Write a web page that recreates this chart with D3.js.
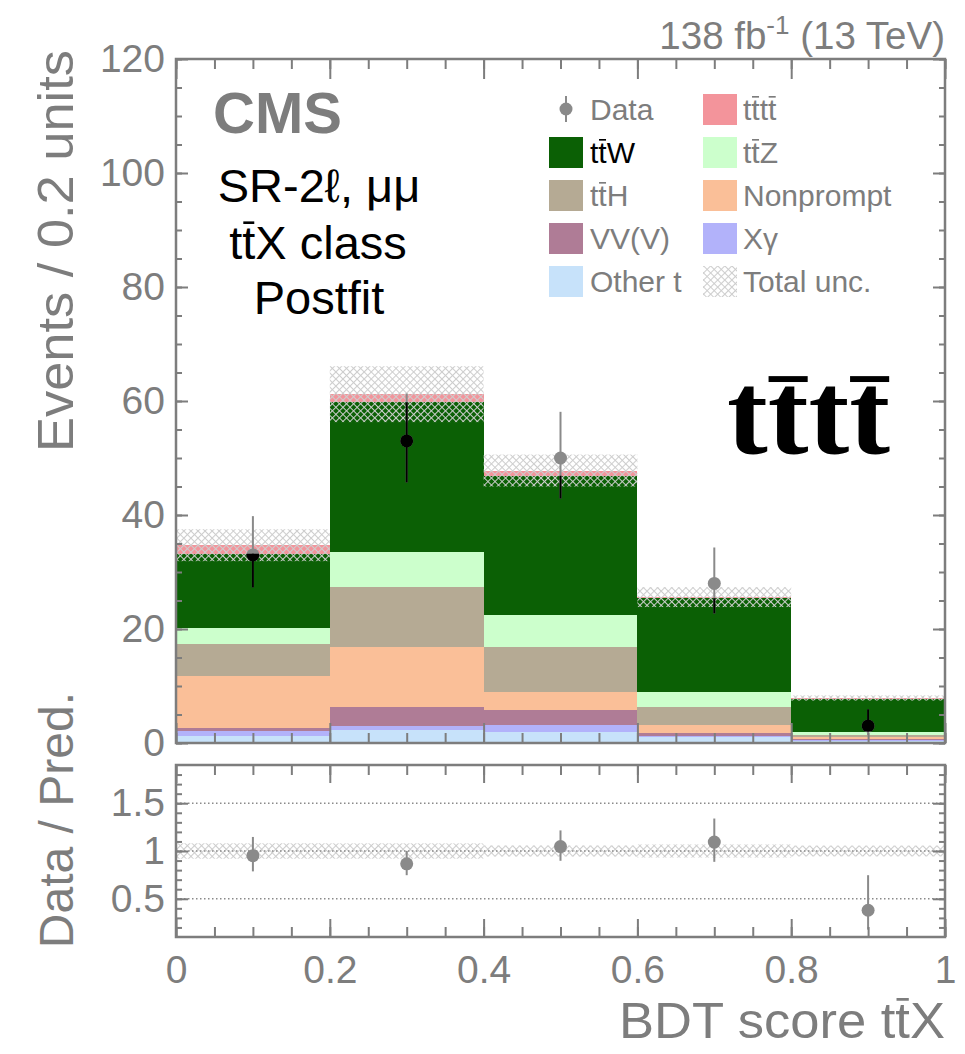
<!DOCTYPE html>
<html><head><meta charset="utf-8">
<script src="https://cdn.jsdelivr.net/npm/d3@7"></script>
<style>body{margin:0;background:#fff} svg{display:block}</style>
</head><body><script>
// ---------------- data ----------------
const binEdges = [0, 0.2, 0.4, 0.6, 0.8, 1.0];
const processKeys = ["otherT", "xGamma", "vvv", "nonprompt", "ttH", "ttZ", "ttW", "tttt"];
const otherT    = [1.2, 2.3, 2.0, 1.0, 0.3];
const xGamma    = [0.9, 0.7, 1.1, 0.3, 0.15];
const vvv       = [0.5, 3.4, 2.7, 0.45, 0.25];
const nonprompt = [9.2, 10.5, 3.2, 1.4, 0.3];
const ttH       = [5.5, 10.4, 7.9, 3.25, 0.4];
const ttZ       = [2.9, 6.2, 5.5, 2.6, 0.6];
const ttW       = [13.0, 26.3, 24.5, 16.4, 5.7];
const tttt      = [1.5, 1.4, 0.9, 0.2, 0.2];
const totalUnc  = [2.8, 4.9, 2.8, 1.75, 0.45];
const dataCounts = [33, 53, 50, 28, 3];
const dataErrLo  = [5.7, 7.3, 7.1, 5.3, 1.6];
const dataErrHi  = [6.8, 8.3, 8.1, 6.3, 2.9];
const yTicksMain = [0, 20, 40, 60, 80, 100, 120];
const yTicksRatio = [0.5, 1, 1.5];
const xTicks = [0, 0.2, 0.4, 0.6, 0.8, 1];
const xTickLabels = ["0", "0.2", "0.4", "0.6", "0.8", "1"];
const colors = {
  otherT: "#c7e2fa", xGamma: "#b2b2fa", vvv: "#af7c96", nonprompt: "#fabf98",
  ttH: "#b5aa94", ttZ: "#ccffcc", ttW: "#0b6005", tttt: "#f3949b"
};
// legend: [key, label parts ([text, overbar])]
const legendCol1 = [
  ["data", [["Data", false]]],
  ["ttW", [["t", false], ["t", true], ["W", false]]],
  ["ttH", [["t", false], ["t", true], ["H", false]]],
  ["vvv", [["VV(V)", false]]],
  ["otherT", [["Other t", false]]]
];
const legendCol2 = [
  ["tttt", [["t", false], ["t", true], ["t", false], ["t", true]]],
  ["ttZ", [["t", false], ["t", true], ["Z", false]]],
  ["nonprompt", [["Nonprompt", false]]],
  ["xGamma", [["Xγ", false]]],
  ["unc", [["Total unc.", false]]]
];

// ---------------- setup ----------------
const W = 965, H = 1054;
const FONT = "'Liberation Sans', Arial, Helvetica, sans-serif";
const GREY = "#7d7d7d";
const svg = d3.select("body").append("svg").attr("width", W).attr("height", H);
const defs = svg.append("defs");
const pat = defs.append("pattern").attr("id", "hatch").attr("patternUnits", "userSpaceOnUse")
  .attr("width", 5).attr("height", 5).attr("patternTransform", "rotate(45)");
pat.append("path").attr("d", "M0,0.5H5M0.5,0V5").attr("stroke", "#cdcdcd").attr("stroke-width", 1.1).attr("fill", "none");

const x = d3.scaleLinear().domain([0, 1]).range([176, 945]);
const y = d3.scaleLinear().domain([0, 120]).range([743, 59]);
const yr = d3.scaleLinear().domain([0.1, 1.9]).range([937, 765]);

const series = { otherT, xGamma, vvv, nonprompt, ttH, ttZ, ttW, tttt };
const rows = d3.range(5).map(i => {
  const o = { i, x0: binEdges[i], x1: binEdges[i + 1] };
  processKeys.forEach(k => o[k] = series[k][i]);
  return o;
});
const stacked = d3.stack().keys(processKeys)(rows);
const totals = rows.map(r => d3.sum(processKeys, k => r[k]));

function richText(parent, px, py, parts, o) {
  const t = parent.append("text").attr("x", px).attr("y", py)
    .attr("font-family", o.family || FONT).attr("font-size", o.size).attr("fill", o.fill)
    .attr("text-anchor", o.anchor || "start").attr("font-weight", o.weight || "normal");
  parts.forEach(p => t.append("tspan").text(p[0]));
  if (o.textLength) t.attr("textLength", o.textLength).attr("lengthAdjust", "spacingAndGlyphs");
  const node = t.node();
  let idx = 0;
  parts.forEach(p => {
    if (p[1]) {
      for (let k = 0; k < p[0].length; k++) {
        const s = node.getStartPositionOfChar(idx + k), e = node.getEndPositionOfChar(idx + k);
        const w = e.x - s.x, ins = o.barInset == null ? 0.08 : o.barInset;
        parent.append("rect").attr("x", s.x + w * ins).attr("width", w * (1 - 2 * ins))
          .attr("y", py - o.size * (o.barY || 0.80)).attr("height", o.size * (o.barH || 0.055))
          .attr("fill", o.fill);
      }
    }
    idx += p[0].length;
  });
  return t;
}

// ---------------- main stack ----------------
const gMain = svg.append("g");
stacked.forEach(layer => {
  gMain.append("g").selectAll("rect").data(layer).join("rect")
    .attr("x", d => x(d.data.x0)).attr("width", d => x(d.data.x1) - x(d.data.x0))
    .attr("y", d => y(d[1])).attr("height", d => Math.max(0, y(d[0]) - y(d[1])))
    .attr("fill", colors[layer.key]).attr("shape-rendering", "crispEdges");
});
// clip of ttW region for black data points
const ttwLayer = stacked.find(l => l.key === "ttW");
const clip = defs.append("clipPath").attr("id", "ttwClip");
clip.selectAll("rect").data(ttwLayer).join("rect")
  .attr("x", d => x(d.data.x0)).attr("width", d => x(d.data.x1) - x(d.data.x0))
  .attr("y", d => y(d[1])).attr("height", d => y(d[0]) - y(d[1]));

// uncertainty hatch
gMain.append("g").selectAll("rect").data(rows).join("rect")
  .attr("x", d => x(d.x0)).attr("width", d => x(d.x1) - x(d.x0))
  .attr("y", (d, i) => y(totals[i] + totalUnc[i]))
  .attr("height", (d, i) => y(totals[i] - totalUnc[i]) - y(totals[i] + totalUnc[i]))
  .attr("fill", "url(#hatch)");

// data points
function drawData(g, color) {
  const pts = rows.map((r, i) => ({ cx: (r.x0 + r.x1) / 2, v: dataCounts[i], lo: dataErrLo[i], hi: dataErrHi[i] }));
  g.selectAll("line").data(pts).join("line")
    .attr("x1", d => x(d.cx)).attr("x2", d => x(d.cx))
    .attr("y1", d => y(d.v - d.lo)).attr("y2", d => y(d.v + d.hi))
    .attr("stroke", color).attr("stroke-width", 2);
  g.selectAll("circle").data(pts).join("circle")
    .attr("cx", d => x(d.cx)).attr("cy", d => y(d.v)).attr("r", 6.5).attr("fill", color);
}
drawData(svg.append("g"), "#8a8a8a");
drawData(svg.append("g").attr("clip-path", "url(#ttwClip)"), "#000");

// ---------------- ratio panel ----------------
const gR = svg.append("g");
gR.append("g").selectAll("rect").data(rows).join("rect")
  .attr("x", d => x(d.x0)).attr("width", d => x(d.x1) - x(d.x0))
  .attr("y", (d, i) => yr(1 + totalUnc[i] / totals[i]))
  .attr("height", (d, i) => yr(1 - totalUnc[i] / totals[i]) - yr(1 + totalUnc[i] / totals[i]))
  .attr("fill", "url(#hatch)");
gR.selectAll("line.ref").data(yTicksRatio).join("line").attr("class", "ref")
  .attr("x1", x(0)).attr("x2", x(1)).attr("y1", d => yr(d)).attr("y2", d => yr(d))
  .attr("stroke", "#8a8a8a").attr("stroke-width", 1.5).attr("stroke-dasharray", "1.5,2.5");
const ratioPts = rows.map((r, i) => ({
  cx: (r.x0 + r.x1) / 2, v: dataCounts[i] / totals[i],
  lo: (dataCounts[i] - dataErrLo[i]) / totals[i], hi: (dataCounts[i] + dataErrHi[i]) / totals[i]
}));
const rClip = defs.append("clipPath").attr("id", "rclip");
rClip.append("rect").attr("x", x(0)).attr("y", yr(1.9)).attr("width", x(1) - x(0)).attr("height", yr(0.1) - yr(1.9));
const gRp = gR.append("g").attr("clip-path", "url(#rclip)");
gRp.selectAll("line").data(ratioPts).join("line")
  .attr("x1", d => x(d.cx)).attr("x2", d => x(d.cx))
  .attr("y1", d => yr(d.lo)).attr("y2", d => yr(d.hi))
  .attr("stroke", "#8a8a8a").attr("stroke-width", 2);
gRp.selectAll("circle").data(ratioPts).join("circle")
  .attr("cx", d => x(d.cx)).attr("cy", d => yr(d.v)).attr("r", 6.5).attr("fill", "#8a8a8a");

// ---------------- axes ----------------
function styleAxis(g) {
  g.select(".domain").remove();
  g.selectAll("line").attr("stroke", GREY).attr("stroke-width", 2);
  g.selectAll("text").attr("fill", GREY).attr("font-family", FONT).attr("font-size", 39);
}
const minorX = d3.range(0, 1.0001, 0.05);
function xAxes(top, bottom, major, minor, labels) {
  svg.append("g").attr("transform", `translate(0,${bottom})`)
    .call(d3.axisBottom(x).tickValues(minorX).tickSize(-minor).tickFormat("")).call(styleAxis);
  svg.append("g").attr("transform", `translate(0,${top})`)
    .call(d3.axisTop(x).tickValues(minorX).tickSize(-minor).tickFormat("")).call(styleAxis);
  svg.append("g").attr("transform", `translate(0,${bottom})`)
    .call(d3.axisBottom(x).tickValues(xTicks).tickSize(-major).tickPadding(18)
      .tickFormat((d, i) => labels ? xTickLabels[i] : "")).call(styleAxis);
  svg.append("g").attr("transform", `translate(0,${top})`)
    .call(d3.axisTop(x).tickValues(xTicks).tickSize(-major).tickFormat("")).call(styleAxis);
}
xAxes(59, 743, 20, 10, false);
xAxes(765, 937, 18, 10, true);

// main y
svg.append("g").attr("transform", `translate(${x(0)},0)`)
  .call(d3.axisLeft(y).tickValues(d3.range(0, 121, 5)).tickSize(-6).tickFormat("")).call(styleAxis);
svg.append("g").attr("transform", `translate(${x(0)},0)`)
  .call(d3.axisLeft(y).tickValues(yTicksMain).tickSize(-12).tickPadding(11)).call(styleAxis);
svg.append("g").attr("transform", `translate(${x(1)},0)`)
  .call(d3.axisRight(y).tickValues(d3.range(0, 121, 5)).tickSize(-6).tickFormat("")).call(styleAxis);
svg.append("g").attr("transform", `translate(${x(1)},0)`)
  .call(d3.axisRight(y).tickValues(yTicksMain).tickSize(-12).tickFormat("")).call(styleAxis);
// ratio y
const minorR = d3.range(0.2, 1.85, 0.1);
svg.append("g").attr("transform", `translate(${x(0)},0)`)
  .call(d3.axisLeft(yr).tickValues(minorR).tickSize(-6).tickFormat("")).call(styleAxis);
svg.append("g").attr("transform", `translate(${x(0)},0)`)
  .call(d3.axisLeft(yr).tickValues(yTicksRatio).tickSize(-12).tickPadding(11).tickFormat(d3.format("~g"))).call(styleAxis);
svg.append("g").attr("transform", `translate(${x(1)},0)`)
  .call(d3.axisRight(yr).tickValues(minorR).tickSize(-6).tickFormat("")).call(styleAxis);
svg.append("g").attr("transform", `translate(${x(1)},0)`)
  .call(d3.axisRight(yr).tickValues(yTicksRatio).tickSize(-12).tickFormat("")).call(styleAxis);

// frames
svg.append("rect").attr("x", x(0)).attr("y", y(120)).attr("width", x(1) - x(0)).attr("height", y(0) - y(120))
  .attr("fill", "none").attr("stroke", GREY).attr("stroke-width", 2.5);
svg.append("rect").attr("x", x(0)).attr("y", yr(1.9)).attr("width", x(1) - x(0)).attr("height", yr(0.1) - yr(1.9))
  .attr("fill", "none").attr("stroke", GREY).attr("stroke-width", 2.5);

// ---------------- titles ----------------
richText(svg, 945, 1038, [["BDT score t", false], ["t", true], ["X", false]],
  { size: 50, fill: GREY, anchor: "end", textLength: 326 });
svg.append("text").attr("transform", "translate(73,50) rotate(-90)").attr("text-anchor", "end")
  .attr("font-family", FONT).attr("font-size", 50).attr("fill", GREY)
  .attr("textLength", 402).attr("lengthAdjust", "spacingAndGlyphs").text("Events / 0.2 units");
svg.append("text").attr("transform", "translate(73,692) rotate(-90)").attr("text-anchor", "end")
  .attr("font-family", FONT).attr("font-size", 48).attr("fill", GREY).text("Data / Pred.");

const lumi = svg.append("text").attr("x", 945).attr("y", 49).attr("text-anchor", "end")
  .attr("font-family", FONT).attr("font-size", 38.5).attr("fill", GREY);
lumi.append("tspan").text("138 fb");
lumi.append("tspan").attr("font-size", 26).attr("dy", -15).text("-1");
lumi.append("tspan").attr("dy", 15).text(" (13 TeV)");

svg.append("text").attr("x", 213).attr("y", 133).attr("font-family", FONT).attr("font-weight", "bold")
  .attr("font-size", 58).attr("fill", GREY).text("CMS");
svg.append("text").attr("x", 319).attr("y", 202).attr("text-anchor", "middle").attr("font-family", FONT)
  .attr("font-size", 47).attr("fill", "#000").text("SR-2ℓ, μμ");
richText(svg, 318, 259, [["t", false], ["t", true], ["X class", false]], { size: 47, fill: "#000", anchor: "middle" });
svg.append("text").attr("x", 319).attr("y", 314).attr("text-anchor", "middle").attr("font-family", FONT)
  .attr("font-size", 47).attr("fill", "#000").text("Postfit");

// big tttt label
richText(svg, 727, 454, [["t", false], ["t", true], ["t", false], ["t", true]],
  { size: 118, fill: "#000", family: "'Liberation Serif', 'Times New Roman', serif", weight: "bold",
    textLength: 163, barY: 0.66, barH: 0.05, barInset: 0.02 });

// ---------------- legend ----------------
const legRows = [109, 152, 195, 238, 281];
const gL = svg.append("g");
function legendEntry(colX, textX, entry, i) {
  const [key, parts] = entry;
  const cy = legRows[i];
  if (key === "data") {
    gL.append("line").attr("x1", colX + 17).attr("x2", colX + 17).attr("y1", cy - 13).attr("y2", cy + 13)
      .attr("stroke", "#8a8a8a").attr("stroke-width", 2);
    gL.append("circle").attr("cx", colX + 17).attr("cy", cy).attr("r", 6.5).attr("fill", "#8a8a8a");
  } else if (key === "unc") {
    gL.append("rect").attr("x", colX).attr("y", cy - 15).attr("width", 34).attr("height", 31).attr("fill", "url(#hatch)");
  } else {
    gL.append("rect").attr("x", colX).attr("y", cy - 15).attr("width", 34).attr("height", 31).attr("fill", colors[key]);
  }
  richText(gL, textX, cy + 11, parts, { size: 30, fill: key === "ttW" ? "#000" : GREY });
}
legendCol1.forEach((e, i) => legendEntry(549, 590, e, i));
legendCol2.forEach((e, i) => legendEntry(703, 743, e, i));
</script></body></html>
